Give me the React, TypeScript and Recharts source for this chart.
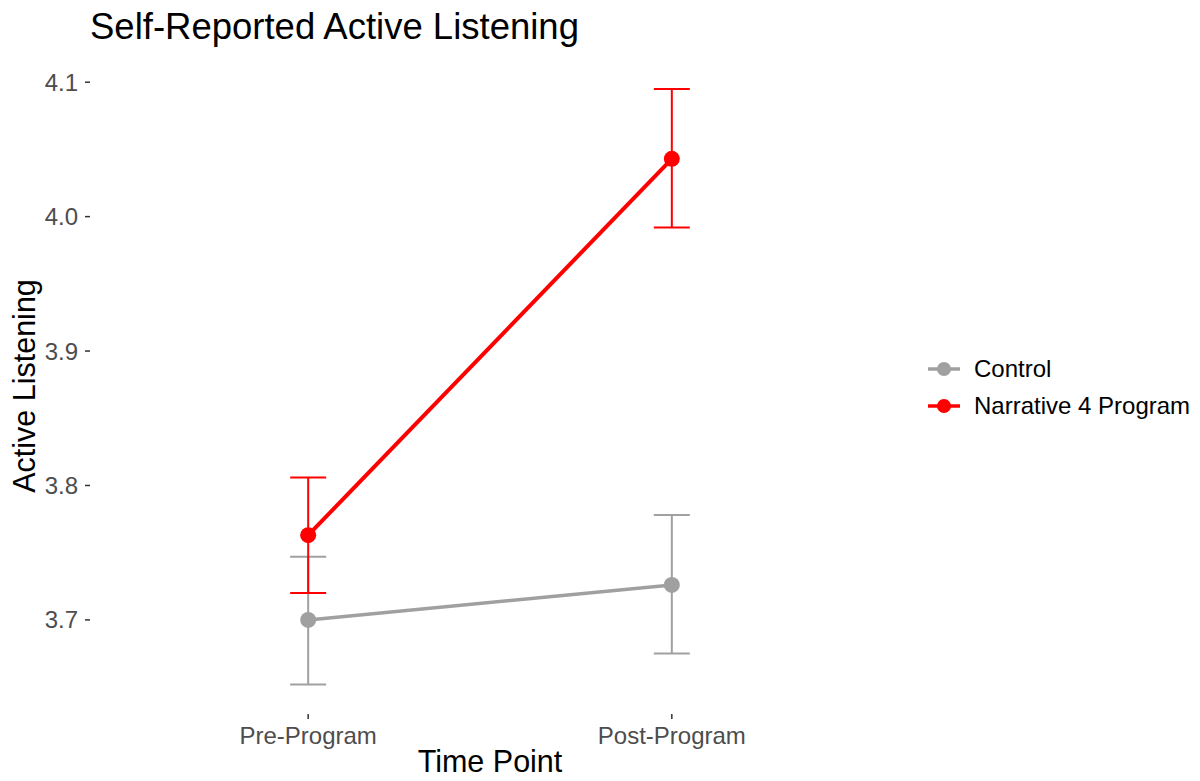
import React from "react"
import { ComposedChart, Line, XAxis, YAxis, ErrorBar, Legend } from "recharts"

// group means with lower / upper bounds of the error bars
const timePoints = ["Pre-Program", "Post-Program"]
const controlMean = [3.7, 3.726]
const controlLow = [3.652, 3.675]
const controlHigh = [3.747, 3.778]
const narrativeMean = [3.763, 4.043]
const narrativeLow = [3.72, 3.992]
const narrativeHigh = [3.806, 4.095]
const yTicks = [3.7, 3.8, 3.9, 4.0, 4.1]

const seriesInfo = [
  { key: "control", name: "Control", color: "#A0A0A0" },
  { key: "narrative", name: "Narrative 4 Program", color: "#FF0000" },
]

const chartData = timePoints.map((label, i) => ({
  x: i + 1,
  label,
  control: controlMean[i],
  controlErr: [controlMean[i] - controlLow[i], controlHigh[i] - controlMean[i]],
  narrative: narrativeMean[i],
  narrativeErr: [narrativeMean[i] - narrativeLow[i], narrativeHigh[i] - narrativeMean[i]],
}))

const FONT = '"Liberation Sans", Arial, Helvetica, sans-serif'

function LegendBox() {
  return (
    <div style={{ fontFamily: FONT, fontSize: 24, color: "#000" }}>
      {seriesInfo.map((s) => (
        <div key={s.key} style={{ display: "flex", alignItems: "center", height: 37 }}>
          <svg width={40} height={20} style={{ marginRight: 8 }}>
            <line x1={2} y1={10} x2={34} y2={10} stroke={s.color} strokeWidth={3.5} />
            <circle cx={18} cy={10} r={7} fill={s.color} />
          </svg>
          <span>{s.name}</span>
        </div>
      ))}
    </div>
  )
}

export default function App() {
  return (
    <div style={{ position: "absolute", left: 0, top: 0, width: 1200, height: 781, background: "#fff", fontFamily: FONT }}>
      <ComposedChart width={1200} height={781} data={chartData} margin={{ top: 58, right: 310, bottom: 0, left: 0 }}>
        <text x={90} y={39} fontSize={36.5} fill="#000" fontFamily={FONT}>
          Self-Reported Active Listening
        </text>
        <text x={35} y={386} fontSize={30.5} fill="#000" textAnchor="middle" transform="rotate(-90 35 386)" fontFamily={FONT}>
          Active Listening
        </text>
        <text x={490} y={772} fontSize={30.5} fill="#000" textAnchor="middle" fontFamily={FONT}>
          Time Point
        </text>
        <XAxis
          type="number"
          dataKey="x"
          domain={[0.4, 2.6]}
          ticks={[1, 2]}
          tickFormatter={(v: number) => timePoints[v - 1]}
          axisLine={false}
          tickLine={{ stroke: "#333", strokeWidth: 1.5 }}
          tickSize={5}
          tickMargin={8}
          height={67}
          tick={{ fontSize: 24, fill: "#4D4D4D" }}
        />
        <YAxis
          type="number"
          domain={[3.63, 4.118]}
          ticks={yTicks}
          tickFormatter={(v: number) => v.toFixed(1)}
          axisLine={false}
          tickLine={{ stroke: "#333", strokeWidth: 1.5 }}
          tickSize={5}
          tickMargin={7}
          width={90}
          tick={{ fontSize: 24, fill: "#4D4D4D" }}
          allowDataOverflow
        />
        <Legend
          layout="vertical"
          align="center"
          verticalAlign="middle"
          content={() => <LegendBox />}
          wrapperStyle={{ position: "absolute", left: 926, top: 350, width: 274 }}
        />
        <Line
          dataKey="control"
          name="Control"
          stroke="#A0A0A0"
          strokeWidth={3.5}
          dot={{ r: 8, fill: "#A0A0A0", stroke: "none" }}
          activeDot={false}
          isAnimationActive={false}
        >
          <ErrorBar dataKey="controlErr" direction="y" width={18} stroke="#A0A0A0" strokeWidth={2} isAnimationActive={false} />
        </Line>
        <Line
          dataKey="narrative"
          name="Narrative 4 Program"
          stroke="#FF0000"
          strokeWidth={4}
          dot={{ r: 8, fill: "#FF0000", stroke: "none" }}
          activeDot={false}
          isAnimationActive={false}
        >
          <ErrorBar dataKey="narrativeErr" direction="y" width={18} stroke="#FF0000" strokeWidth={2} isAnimationActive={false} />
        </Line>
      </ComposedChart>
    </div>
  )
}
